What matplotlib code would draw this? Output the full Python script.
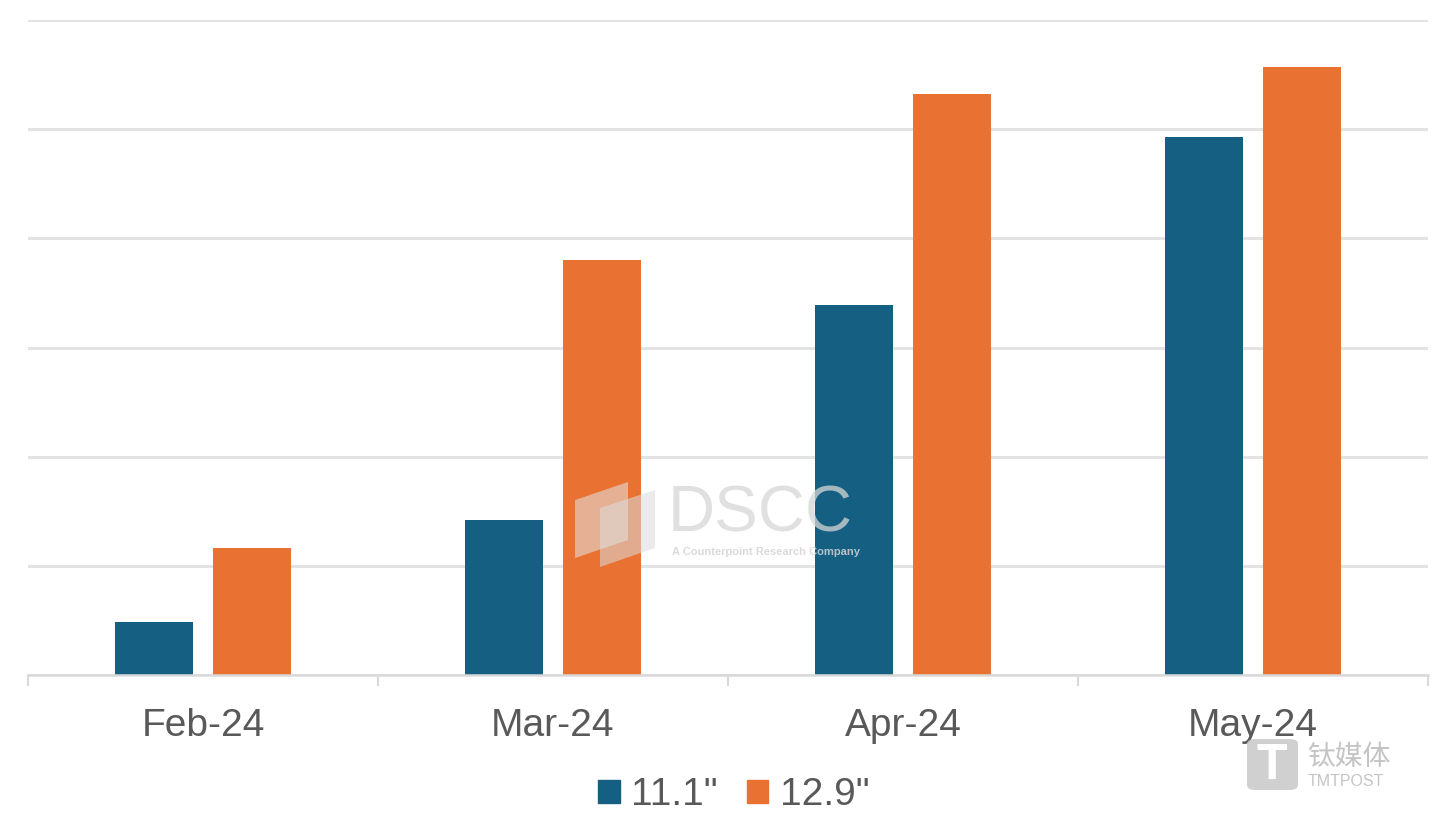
import matplotlib
matplotlib.use("Agg")
import matplotlib.pyplot as plt
from matplotlib.patches import Polygon, FancyBboxPatch, Patch

plt.rcParams["font.family"] = ["Liberation Sans", "Noto Sans CJK SC", "DejaVu Sans"]

months = ["Feb-24", "Mar-24", "Apr-24", "May-24"]
series_names = ['11.1"', '12.9"']
# relative shipment index (no y scale in the source chart)
val_11 = [0.49, 1.42, 3.39, 4.93]
val_12 = [1.16, 3.80, 5.32, 5.57]
colors = ["#156082", "#E97132"]

W, H = 1439, 817
fig = plt.figure(figsize=(W / 100, H / 100), dpi=100)
ax = fig.add_axes([28 / W, 1 - 675 / H, 1400 / W, 655 / H])

x = list(range(len(months)))
bw = 0.223
ax.bar([i - 0.14 for i in x], val_11, bw, color=colors[0], zorder=3)
ax.bar([i + 0.14 for i in x], val_12, bw, color=colors[1], zorder=3)

ax.set_xlim(-0.5, len(months) - 0.5)
ax.set_ylim(0, 6)
ax.set_yticks(range(0, 7))
ax.yaxis.grid(True, color="#e3e3e3", lw=2.2, zorder=0)
ax.tick_params(axis="y", left=False, labelleft=False)

for s in ["top", "right", "left"]:
    ax.spines[s].set_visible(False)
ax.spines["bottom"].set_color("#d9d9d9")
ax.spines["bottom"].set_linewidth(1.8)
ax.spines["bottom"].set_zorder(4)

# boundary ticks between categories, labels centred
ax.set_xticks([i - 0.5 for i in range(len(months) + 1)])
ax.tick_params(axis="x", which="major", length=8, width=1.5, color="#d9d9d9", labelbottom=False)
ax.set_xticks(x, minor=True)
ax.set_xticklabels(months, minor=True)
ax.tick_params(axis="x", which="minor", length=0, pad=24, labelsize=28, labelcolor="#595959")

handles = [Patch(color=c) for c in colors]
fig.legend(handles, series_names, loc="center", bbox_to_anchor=(734 / W, 1 - 795 / H),
           ncol=2, frameon=False, fontsize=28, labelcolor="#595959",
           handlelength=0.55, handleheight=0.55, handletextpad=0.3, columnspacing=0.75)


def fx(px):
    return px / W


def fy(py):
    return 1 - py / H


# DSCC watermark
fig.patches.append(Polygon([(fx(575), fy(500)), (fx(628), fy(482)), (fx(628), fy(540)), (fx(575), fy(558))],
                           closed=True, transform=fig.transFigure, facecolor="#e5e5e5", alpha=0.55,
                           edgecolor="none", zorder=5))
fig.patches.append(Polygon([(fx(600), fy(508)), (fx(655), fy(490)), (fx(655), fy(548)), (fx(600), fy(567))],
                           closed=True, transform=fig.transFigure, facecolor="#dcdcdc", alpha=0.55,
                           edgecolor="none", zorder=5))
fig.text(fx(668), fy(514), "DSCC", fontsize=47, color="#d6d6d6", alpha=0.75,
         ha="left", va="center", zorder=6)
fig.text(fx(672), fy(552), "A Counterpoint Research Company", fontsize=8, color="#d4d4d4",
         fontweight="bold", alpha=0.85, ha="left", va="center", zorder=6)

# TMTPOST watermark
fig.patches.append(FancyBboxPatch((fx(1247), fy(790)), fx(51), 51 / H,
                                  boxstyle="round,pad=0,rounding_size=0.006",
                                  transform=fig.transFigure, facecolor="#c8c8c8",
                                  edgecolor="none", alpha=0.85, zorder=5))
fig.text(fx(1272), fy(766), "T", fontsize=36, fontweight="bold", color="white",
         ha="center", va="center", zorder=6)
fig.text(fx(1307), fy(757), "钛媒体", fontsize=20, color="#c4c4c4", ha="left", va="center",
         family=["Noto Sans CJK SC", "DejaVu Sans"], zorder=6)
fig.text(fx(1308), fy(781), "TMTPOST", fontsize=11.5, color="#c4c4c4", ha="left", va="center", zorder=6)

fig.savefig("out.png", dpi=100)
